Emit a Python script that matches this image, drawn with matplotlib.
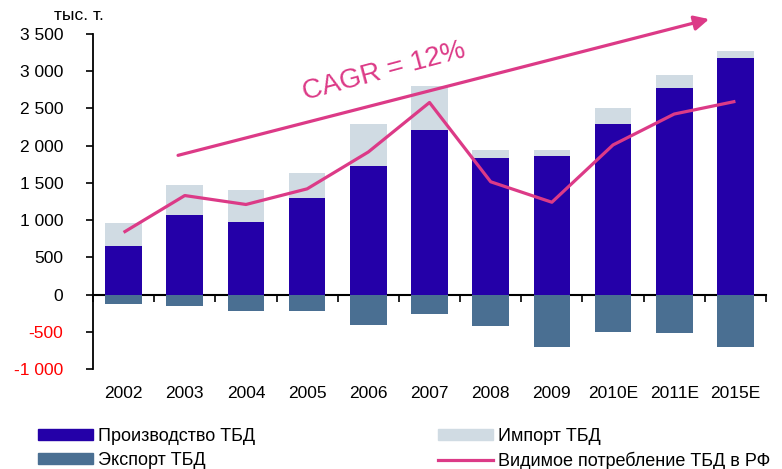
import numpy as np
import matplotlib
matplotlib.use("Agg")
import matplotlib.pyplot as plt
from matplotlib.patches import Patch
from matplotlib.lines import Line2D

years = ["2002", "2003", "2004", "2005", "2006", "2007", "2008", "2009", "2010E", "2011E", "2015E"]
production = [650, 1065, 970, 1295, 1730, 2210, 1830, 1860, 2290, 2770, 3175]
imports = [310, 400, 430, 335, 560, 590, 110, 80, 215, 175, 95]
exports = [-125, -155, -225, -225, -410, -265, -425, -705, -505, -520, -705]
consumption = [835, 1330, 1210, 1420, 1915, 2580, 1515, 1240, 2010, 2425, 2595]

cagr_start = (0.89, 1870)
cagr_end = (9.57, 3700)

c_prod = "#2400A8"
c_imp = "#D0DBE3"
c_exp = "#4A6F92"
c_line = "#DC3A87"

plt.rcParams['font.family'] = ['Liberation Sans', 'DejaVu Sans']

fig = plt.figure(figsize=(7.82, 4.69), dpi=100)
ax = fig.add_axes([93/782, 1-369/469, (766-93)/782, (369-34)/469])

x = np.arange(len(years))
w = 0.6
ax.bar(x, production, w, color=c_prod, zorder=2)
ax.bar(x, imports, w, bottom=production, color=c_imp, zorder=2)
ax.bar(x, exports, w, color=c_exp, zorder=2)
ax.plot(x, consumption, color=c_line, lw=2.3, zorder=3, solid_capstyle='butt')

# стрелка тренда
ax.annotate('', xy=cagr_end, xytext=cagr_start, annotation_clip=False,
            arrowprops=dict(arrowstyle='-|>', color=c_line, lw=2.3,
                            mutation_scale=22, shrinkA=0, shrinkB=0))
ax.text(4.25, 2990, "CAGR = 12%", color=c_line, fontsize=20, rotation=15,
        ha='center', va='center')

ax.set_xlim(-0.5, len(years) - 0.5)
ax.set_ylim(-1000, 3500)

yt = np.arange(-1000, 3501, 500)
ax.set_yticks(yt)
ax.set_yticklabels([f"{v:,}".replace(",", " ") for v in yt], fontsize=12.5)
for lab, v in zip(ax.get_yticklabels(), yt):
    if v < 0:
        lab.set_color("red")
ax.tick_params(axis='y', direction='out', length=5, width=1.2, pad=16.5)

ax.set_xticks(x)
ax.set_xticklabels(years, fontsize=12.5)
ax.tick_params(axis='x', length=0, pad=12)

for s in ['top', 'right', 'bottom']:
    ax.spines[s].set_visible(False)
ax.spines['left'].set_linewidth(1.3)

# ось X проходит через ноль
sec = ax.secondary_xaxis(0, transform=ax.transData)
sec.set_xticks(np.arange(-0.5, len(years), 1))
sec.set_xticklabels([])
sec.tick_params(direction='out', length=5, width=1.2)
sec.spines['bottom'].set_linewidth(1.5)

fig.text(79/782, 1-15/469, "тыс. т.", fontsize=12.5, ha='center', va='center')

handles = [Patch(color=c_prod), Patch(color=c_exp), Patch(color=c_imp),
           Line2D([], [], color=c_line, lw=2.3)]
labels = ["Производство ТБД", "Экспорт ТБД", "Импорт ТБД",
          "Видимое потребление ТБД в РФ"]
fig.legend(handles, labels, ncol=2, loc='upper left',
           bbox_to_anchor=(38/782, 1-428/469), frameon=False,
           borderpad=0, borderaxespad=0,
           handlelength=3.05, handleheight=0.62, handletextpad=0.28,
           columnspacing=10.1, labelspacing=0.38,
           prop={'size': 13})

fig.savefig("out.png", dpi=100)
